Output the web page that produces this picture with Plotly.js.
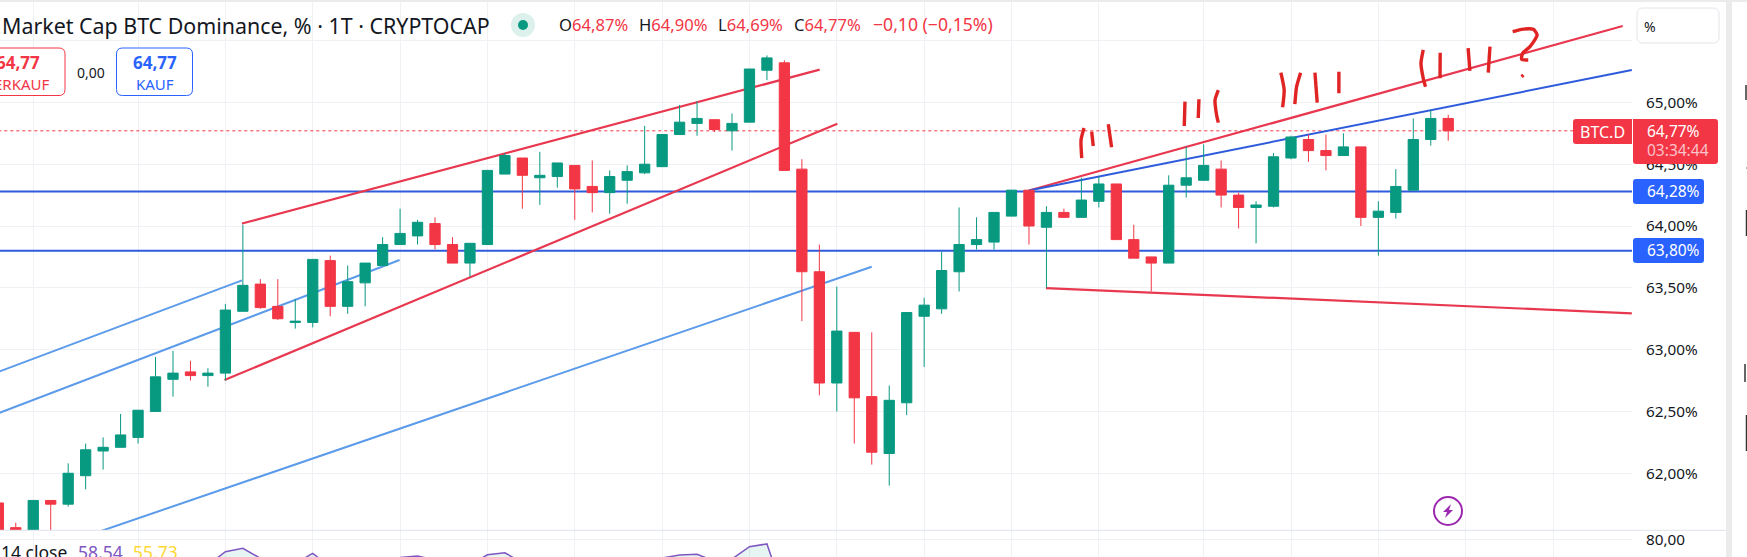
<!DOCTYPE html>
<html><head><meta charset="utf-8">
<script src="https://cdn.plot.ly/plotly-3.0.1.min.js"></script>
<style>html,body{margin:0;padding:0;background:#fff;overflow:hidden}#c{width:1747px;height:557px}</style>
</head><body><div id="c"></div>
<script>
const opens=[61.76,61.56,61.46,61.78,61.75,61.98,62.18,62.21,62.29,62.50,62.76,62.82,62.79,62.81,63.31,63.53,63.35,63.22,63.22,63.72,63.35,63.54,63.68,63.85,63.92,64.02,63.85,63.70,63.85,64.42,64.55,64.39,64.40,64.49,64.32,64.27,64.37,64.43,64.48,64.74,64.83,64.86,64.77,64.84,65.26,65.32,64.46,63.63,62.73,63.14,62.62,62.16,62.57,63.27,63.33,63.63,63.85,63.87,64.08,64.29,63.99,64.11,64.07,64.20,64.34,63.89,63.75,63.70,64.33,64.37,64.46,64.25,64.15,64.16,64.55,64.70,64.61,64.57,64.64,64.07,64.11,64.29,64.70,64.87];
const highs=[61.76,61.60,61.78,61.78,62.08,62.24,62.29,62.48,62.51,62.94,62.99,62.91,62.85,63.37,64.01,63.57,63.57,63.41,63.73,63.76,63.68,63.70,63.91,64.14,64.05,64.07,63.91,63.86,64.45,64.59,64.55,64.60,64.51,64.49,64.53,64.45,64.49,64.81,64.74,64.98,65.01,64.86,64.91,65.27,65.38,65.34,64.54,63.85,63.51,63.14,63.14,62.71,63.30,63.42,63.79,64.15,64.07,64.11,64.29,64.29,64.16,64.14,64.39,64.40,64.34,64.01,63.75,64.41,64.64,64.66,64.53,64.27,64.20,64.59,64.73,64.74,64.74,64.75,64.64,64.20,64.46,64.87,64.94,64.90];
const lows=[61.50,61.52,61.46,61.50,61.73,61.87,62.03,62.21,62.24,62.50,62.62,62.75,62.70,62.75,63.31,63.33,63.24,63.17,63.18,63.27,63.29,63.35,63.68,63.85,63.85,63.81,63.70,63.59,63.85,64.42,64.14,64.17,64.31,64.05,64.11,64.10,64.18,64.42,64.48,64.74,64.73,64.76,64.61,64.84,65.18,64.45,63.23,62.63,62.50,62.24,62.07,61.90,62.47,62.86,63.29,63.47,63.81,63.81,64.08,63.85,63.50,64.07,64.07,64.15,63.89,63.74,63.47,63.70,64.23,64.37,64.15,63.98,63.86,64.15,64.54,64.52,64.45,64.57,64.00,63.76,64.06,64.29,64.65,64.69];
const closes=[61.50,61.53,61.78,61.75,62.00,62.19,62.21,62.31,62.51,62.78,62.81,62.79,62.81,63.32,63.52,63.34,63.25,63.23,63.73,63.35,63.55,63.70,63.85,63.94,64.03,63.85,63.70,63.86,64.45,64.57,64.41,64.41,64.51,64.30,64.27,64.40,64.44,64.50,64.74,64.84,64.87,64.78,64.83,65.27,65.36,64.45,63.63,62.73,63.15,62.61,62.17,62.59,63.30,63.36,63.64,63.85,63.89,64.11,64.29,64.00,64.11,64.07,64.21,64.34,63.89,63.74,63.70,64.33,64.39,64.49,64.25,64.15,64.17,64.56,64.72,64.61,64.57,64.64,64.07,64.12,64.32,64.70,64.87,64.77];
const candleIdx=opens.map((_,i)=>i);

// y axis ticks
const priceTicks=[62,62.5,63,63.5,64,64.5,65,65.5];
const priceLabels=['62,00%','62,50%','63,00%','63,50%','64,00%','64,50%','65,00%',''];
const timeGrid=[2,8,13,18,23,28,33,38,43,48,53,58,63,69,74,79,84,89];

// drawings: [x0,y0,x1,y1] in candle index / percent
const blueLines=[[0,62.82,13.95,63.56],[0,62.485,22.97,63.725],[5,61.49,50,63.67]];
const redLines=[[13.95,64.02,47.02,65.265],[12.95,62.754,48.03,64.828],[59,64.287,92.99,65.618],[59.97,63.498,93.51,63.294]];
const upperBlue=[59,64.287,93.51,65.262];
const levels=[64.28,63.80];
const lastPrice=64.77;

// hand-written strokes
const strokeX=[62.02,61.98,62.15,null,62.59,62.68,null,63.54,63.73,null,67.93,67.89,null,68.73,68.69,null,69.84,69.65,69.74,69.84,null,73.42,73.61,73.52,null,74.55,74.32,74.22,null,75.37,75.50,null,76.74,76.74,null,81.57,81.44,81.57,81.70,null,82.54,82.53,null,84.14,84.24,null,85.39,85.29,null,86.69,87.20,87.87,88.09,87.68,87.26,87.20,87.58,null,87.20,87.30];
const strokeY=[64.550,64.696,64.793,null,64.763,64.647,null,64.823,64.637,null,65.006,64.809,null,65.025,64.874,null,65.100,65.019,64.898,64.836,null,65.240,65.100,64.960,null,65.240,65.127,64.985,null,65.240,64.998,null,65.248,65.074,null,65.424,65.316,65.195,65.127,null,65.402,65.195,null,65.438,65.254,null,65.451,65.240,null,65.572,65.591,65.591,65.545,65.451,65.397,65.349,65.343,null,65.208,65.222];

// RSI (only the tops that are visible above the window edge)
const rsiX=[12,13,14,15,16,null,17,18,19,null,23,24,25,null,27,28,29,30,null,38,39,40,41,42,43,44,45];
const rsiY=[63.9,72.25,74.4,68.1,64,null,64.9,71.25,62.7,null,68.6,69.6,67,null,64,70.3,71.6,65.2,null,68.3,70.2,70.6,66.4,67.7,75.4,77.1,45];

const FONT='"Noto Sans", sans-serif';
const W=1747,H=557,ML=0,MR=115,MT=2,MB=0;
const PW=W-ML-MR,PH=H-MT-MB;
const px=x=>(x-ML)/PW, py=y=>1-(y-MT)/PH;
const GREEN='#089981',RED='#F23645',BLUE='#2962FF',LINEBLUE='#2E5BDB',SOFTBLUE='#5B9BEA',GRID='#f0f1f4',INK='#131722';

function seg(a,color,width,dash){return {type:'line',layer:'between',xref:'x',yref:'y',x0:a[0],y0:a[1],x1:a[2],y1:a[3],line:{color,width,dash:dash||'solid'}};}
function round(x0,y0,x1,y1,r,fill,line){
  const X=px,Y=py;
  const p=`M${X(x0+r)},${Y(y0)} L${X(x1-r)},${Y(y0)} Q${X(x1)},${Y(y0)} ${X(x1)},${Y(y0+r)} L${X(x1)},${Y(y1-r)} Q${X(x1)},${Y(y1)} ${X(x1-r)},${Y(y1)} L${X(x0+r)},${Y(y1)} Q${X(x0)},${Y(y1)} ${X(x0)},${Y(y1-r)} L${X(x0)},${Y(y0+r)} Q${X(x0)},${Y(y0)} ${X(x0+r)},${Y(y0)} Z`;
  return {type:'path',xref:'paper',yref:'paper',path:p,fillcolor:fill,line:line||{width:0},layer:'above'};
}
function rect(x0,y0,x1,y1,fill){return {type:'rect',xref:'paper',yref:'paper',x0:px(x0),x1:px(x1),y0:py(y0),y1:py(y1),fillcolor:fill,line:{width:0},layer:'above'};}
function circle(cx,cy,r,fill,line){return {type:'circle',xref:'paper',yref:'paper',x0:px(cx-r),x1:px(cx+r),y0:py(cy-r),y1:py(cy+r),fillcolor:fill,line:line||{width:0},layer:'above'};}
function txt(x,y,text,size,color,anchor){return {xref:'paper',yref:'paper',x:px(x),y:py(y),text,showarrow:false,xanchor:anchor||'left',yanchor:'middle',borderpad:0,font:{family:FONT,size,color}};}
const r=c=>t=>`<span style="color:${c}">${t}</span>`, red=r(RED);

const bolt=(()=>{const pts=[[1451,504],[1443,512],[1447,512],[1445,518],[1453,510],[1449,510]];
  return {type:'path',xref:'paper',yref:'paper',layer:'above',fillcolor:'#9C27B0',line:{width:0},path:'M'+pts.map(p=>px(p[0])+','+py(p[1])).join(' L')+' Z'};})();

const shapes=[
  ...levels.map(v=>seg([0,v,94,v],LINEBLUE,2)),
  seg([0,lastPrice,94,lastPrice],RED,1,'dot'),
  ...blueLines.map(a=>seg(a,SOFTBLUE,2)),
  ...redLines.map(a=>seg(a,'#E8384F',2.2)),
  seg(upperBlue,LINEBLUE,2),
  // frame
  rect(0,0,W,2,'#ebebeb'),
  rect(1726,0,1732,H,'#ebebeb'),
  {type:'line',xref:'paper',yref:'paper',x0:px(0),x1:px(1726),y0:py(530.3),y1:py(530.3),line:{color:'#e0e3eb',width:1},layer:'above'},
  // toolbar boxes
  round(-31,48,65,95.5,6,'#fff',{color:RED,width:1}),
  round(116.5,48,192.5,95.5,6,'#fff',{color:BLUE,width:1}),
  round(1637,8,1719,43,6,'#fff',{color:'#e3e5ea',width:1}),
  // status dot
  circle(523,25,12,'#DCF1EC'),
  circle(523,25,5,GREEN),
  // price tags
  round(1573,119,1640,144,3,RED),
  rect(1632,119,1633,144,'#ffffff'),
  round(1633,119,1718,164,3,RED),
  round(1633,179,1704,204,3,BLUE),
  round(1633,238,1704,263,3,BLUE),
  // icon
  circle(1448,511,14,'rgba(0,0,0,0)',{color:'#9C27B0',width:2}),
  bolt,
  // neighbouring panel fragments
  {type:'line',xref:'paper',yref:'paper',x0:px(1746),x1:px(1746),y0:py(85),y1:py(100),line:{color:'#333',width:1.5},layer:'above'},
  {type:'line',xref:'paper',yref:'paper',x0:px(1746),x1:px(1747),y0:py(168),y1:py(168),line:{color:'#777',width:1},layer:'above'},
  {type:'line',xref:'paper',yref:'paper',x0:px(1746.5),x1:px(1746.5),y0:py(210),y1:py(236),line:{color:'#333',width:1.5},layer:'above'},
  {type:'line',xref:'paper',yref:'paper',x0:px(1745),x1:px(1745),y0:py(364),y1:py(382),line:{color:'#333',width:1.5},layer:'above'},
  {type:'line',xref:'paper',yref:'paper',x0:px(1746.5),x1:px(1746.5),y0:py(415),y1:py(451),line:{color:'#333',width:1.5},layer:'above'}
];

const annotations=[
  txt(1,25,'Market Cap BTC Dominance, % · 1T · CRYPTOCAP',21.4,INK),
  txt(558,24,'O'+red('64,87%'),16.6,INK),
  txt(638,24,'H'+red('64,90%'),16.6,INK),
  txt(717,24,'L'+red('64,69%'),16.6,INK),
  txt(793,24,'C'+red('64,77%'),16.6,INK),
  txt(872,24,'−0,10 (−0,15%)',17.6,RED),
  txt(17.5,63,'<b>64,77</b>',17,RED,'center'),
  txt(17,84,'VERKAUF',15,RED,'center'),
  txt(91,72,'0,00',14,INK,'center'),
  txt(154.5,63,'<b>64,77</b>',17,BLUE,'center'),
  txt(154.5,84,'KAUF',15,BLUE,'center'),
  txt(1643,26,'%',14,INK),
  txt(1579,132,'BTC.D',16,'#fff'),
  txt(1646,131,'64,77%',15.5,'#fff'),
  txt(1646,150,'03:34:44',15.5,'#FBC3CA'),
  txt(1646,191,'64,28%',15.5,'#fff'),
  txt(1646,250,'63,80%',15.5,'#fff'),
  txt(0,552,'14 close',17.5,INK),
  txt(76.5,552,'58,54',17.5,'#7E57C2'),
  txt(131.5,552,'55,73',17.5,'#FDD835')
];

const traces=[
  {type:'scatter',mode:'lines',x:rsiX,y:rsiY,xaxis:'x',yaxis:'y2',connectgaps:false,fill:'tozeroy',fillcolor:'rgba(8,153,129,0.10)',line:{color:'#7E57C2',width:1.5},hoverinfo:'skip'},
  {type:'candlestick',x:candleIdx,open:opens,high:highs,low:lows,close:closes,xaxis:'x',yaxis:'y',whiskerwidth:0,
   increasing:{line:{color:GREEN,width:1},fillcolor:GREEN},decreasing:{line:{color:RED,width:1},fillcolor:RED},hoverinfo:'skip'},
  {type:'scatter',mode:'lines',x:strokeX,y:strokeY,xaxis:'x',yaxis:'y',connectgaps:false,line:{color:'#E02424',width:3.4,shape:'spline',smoothing:0.6},hoverinfo:'skip'}
];

const layout={
  width:W,height:H,margin:{l:ML,r:MR,t:MT,b:MB,pad:0},
  paper_bgcolor:'#fff',plot_bgcolor:'#fff',showlegend:false,boxgap:0.16,
  font:{family:FONT,color:INK},
  xaxis:{range:[0.0973,93.52],tickvals:timeGrid,ticktext:timeGrid.map(()=>''),showgrid:true,gridcolor:GRID,gridwidth:1,zeroline:false,showline:false,ticks:'',showticklabels:false,rangeslider:{visible:false},anchor:'y2'},
  yaxis:{domain:[(H-530)/PH,1],range:[61.541,65.812],side:'right',anchor:'x',tickvals:priceTicks,ticktext:priceLabels,showgrid:true,gridcolor:GRID,gridwidth:1,zeroline:false,showline:false,ticks:'',ticklabelstandoff:13,ticklabelshift:1.5,tickfont:{family:FONT,size:15.3,color:INK}},
  yaxis2:{domain:[0,(H-530.3)/PH],range:[68.94,85.6],side:'right',anchor:'x',tickvals:[80],ticktext:['80,00'],showgrid:true,gridcolor:GRID,gridwidth:1,zeroline:false,showline:false,ticks:'',ticklabelstandoff:13,ticklabelshift:1.5,tickfont:{family:FONT,size:15.3,color:INK}},
  shapes,annotations
};
Plotly.newPlot('c',traces,layout,{displayModeBar:false,staticPlot:true});
</script></body></html>
